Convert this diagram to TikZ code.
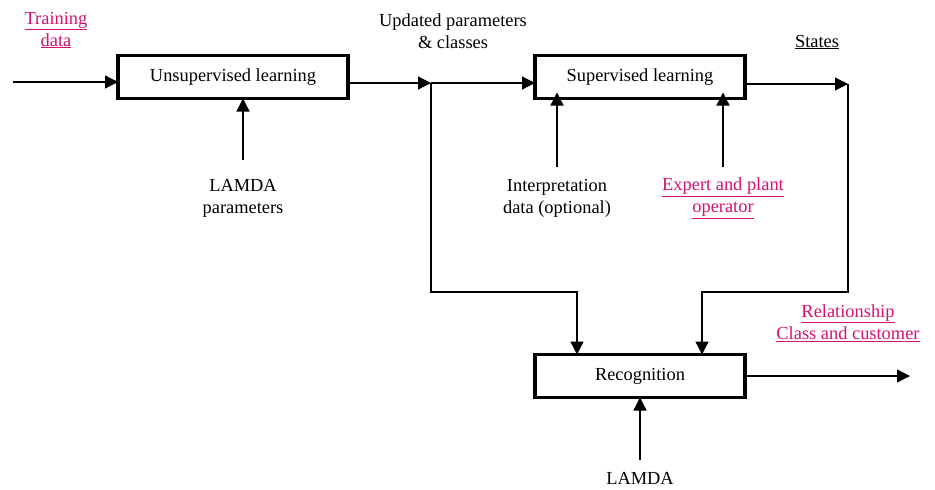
\documentclass[tikz,border=0pt]{standalone}
\usepackage{fontspec}
\setmainfont{Liberation Serif}
\usetikzlibrary{arrows.meta}
\definecolor{rubine}{RGB}{214,18,112}
\tikzset{
  block/.style={draw, line width=3.4pt, inner sep=0pt, outer sep=0pt, font=\fontsize{18.4}{22}\selectfont},
  lbl/.style={align=center, inner sep=0pt, font=\fontsize{18.4}{22}\selectfont},
  link/.style={line width=1.3pt, -{Triangle[length=13pt,width=13pt]}},
}
\newcommand{\ul}[1]{\underline{#1}}
\begin{document}
\begin{tikzpicture}[x=1pt,y=-1pt]
\useasboundingbox (0,0) rectangle (935,490);

% processing blocks
\node[block, minimum width=230pt, minimum height=43pt] (unsup) at (233,77) {Unsupervised learning};
\node[block, minimum width=210pt, minimum height=43pt] (sup) at (640,77) {Supervised learning};
\node[block, minimum width=210pt, minimum height=43pt] (rec) at (640,376) {Recognition};

% labels
\node[lbl, text=rubine] (train) at (56,30) {\ul{Training}\\\ul{data}};
\node[lbl] (upd) at (453,31) {Updated parameters\\\& classes};
\node[lbl] (states) at (817,42) {\ul{States}};
\node[lbl] (lamdap) at (243,198) {LAMDA\\parameters};
\node[lbl] (interp) at (557,198) {Interpretation\\data (optional)};
\node[lbl, text=rubine] (expert) at (723,198) {\ul{Expert and plant}\\\ul{operator}};
\node[lbl, text=rubine] (rel) at (848,323) {\ul{Relationship}\\\ul{Class and customer}};
\node[lbl] (lamda) at (640,478) {LAMDA};

% junction points and free ends
\coordinate (in) at (13,82);
\coordinate (j1) at (431,83);
\coordinate (j2) at (848,84);
\coordinate (out) at (910,376);
\coordinate (lp) at (243,160);
\coordinate (ip) at (557,167);
\coordinate (ep) at (723,167);
\coordinate (lr) at (640,460);

% connectors
\draw[link] (in) -- (unsup.west |- in);
\draw[link] (unsup.east |- j1) -- (j1);
\draw[link] (j1) -- (sup.west |- j1);
\draw[link] (sup.east |- j2) -- (j2);
\draw[link] (j1) -- (431,292) -| ([xshift=-63pt]rec.north);
\draw[link] (j2) -- (848,292) -| ([xshift=62pt]rec.north);
\draw[link] (rec.east) -- (out);
\draw[link] (lp) -- (lp |- unsup.south);
\draw[link] (ip) -- ([yshift=6pt]ip |- sup.south);
\draw[link] (ep) -- ([yshift=6pt]ep |- sup.south);
\draw[link] (lr) -- (rec.south);
\end{tikzpicture}
\end{document}
